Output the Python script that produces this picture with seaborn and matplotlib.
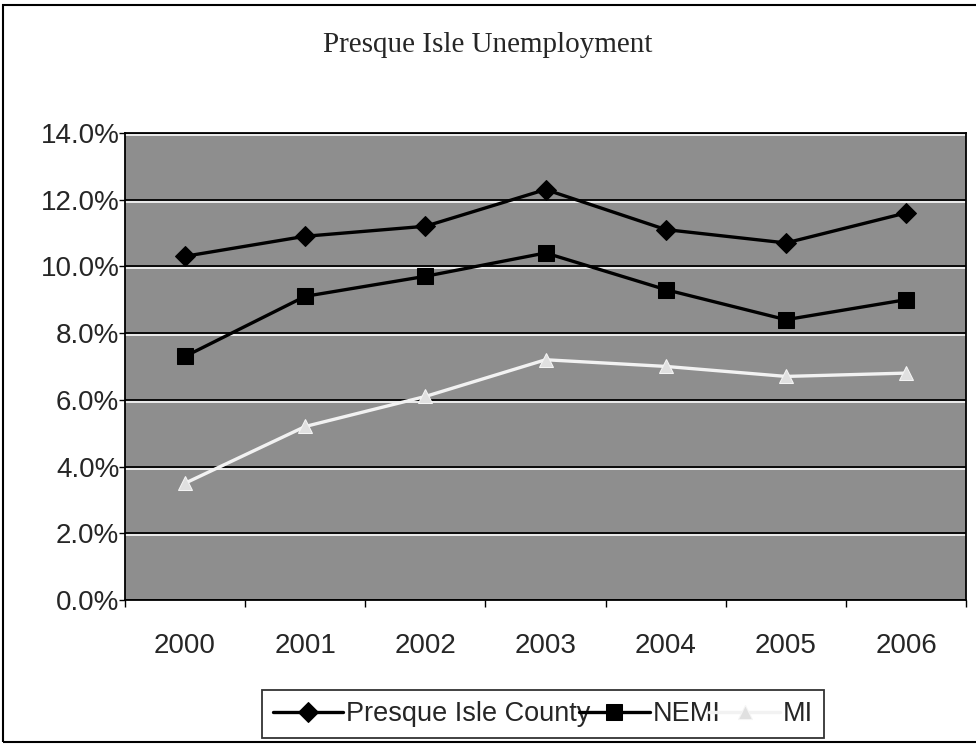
import pandas as pd
import matplotlib.pyplot as plt
import matplotlib.patheffects as pe
import seaborn as sns
from matplotlib.patches import Rectangle
from matplotlib.ticker import FuncFormatter, FixedLocator

# Data
years = ['2000', '2001', '2002', '2003', '2004', '2005', '2006']
presque_isle = [10.3, 10.9, 11.2, 12.3, 11.1, 10.7, 11.6]
nemi = [7.3, 9.1, 9.7, 10.4, 9.3, 8.4, 9.0]
mi = [3.5, 5.2, 6.1, 7.2, 7.0, 6.7, 6.8]
series_names = ['Presque Isle County', 'NEMI', 'MI']

df = pd.DataFrame({'year': years, 'Presque Isle County': presque_isle, 'NEMI': nemi, 'MI': mi})
df['x'] = range(len(years))

sns.set_theme(style="white")
plt.rcParams['font.family'] = ['Liberation Sans', 'DejaVu Sans']

fig = plt.figure(figsize=(9.76, 7.44), dpi=100)
ax = fig.add_axes([0.128, 0.1935, 0.862, 0.628])
ax.set_facecolor('#8e8e8e')

# outer chart frame
fig.patches.append(Rectangle((0.003, 0.003), 1.2, 0.99, transform=fig.transFigure,
                             fill=False, edgecolor='black', linewidth=1.5))

styles = {
    'Presque Isle County': dict(color='black', marker='D', markersize=10, mfc='black', mec='black'),
    'NEMI': dict(color='black', marker='s', markersize=11, mfc='black', mec='black'),
    'MI': dict(color='#f2f2f2', marker='^', markersize=10, mfc='#e0e0e0', mec='#f5f5f5'),
}
for name in series_names:
    st = styles[name]
    sns.lineplot(data=df, x='x', y=name, ax=ax, color=st['color'], marker=st['marker'],
                 markersize=st['markersize'], markerfacecolor=st['mfc'],
                 markeredgecolor=st['mec'], linewidth=2.4, label=name, legend=False)

ax.set_ylim(0, 14)
ax.set_xlim(-0.5, len(years) - 0.5)
ax.set_yticks([0, 2, 4, 6, 8, 10, 12, 14])
ax.yaxis.set_major_formatter(FuncFormatter(lambda v, p: f'{v:.1f}%'))
ax.set_xticks(range(len(years)))
ax.set_xticklabels(years)
ax.xaxis.set_minor_locator(FixedLocator([i - 0.5 for i in range(len(years) + 1)]))
ax.tick_params(axis='x', which='major', length=0, pad=24, labelsize=20)
ax.tick_params(axis='x', which='minor', length=5, width=1, color='black', direction='out', bottom=True)
ax.tick_params(axis='y', length=4, width=1, color='black', direction='out', left=True, labelsize=20, pad=0)
ax.grid(axis='y', color='black', linewidth=1.3)
for gl in ax.get_ygridlines():
    gl.set_path_effects([pe.SimpleLineShadow(offset=(0, -1.5), shadow_color='white', alpha=0.9),
                         pe.Normal()])
ax.set_axisbelow(True)
for s in ax.spines.values():
    s.set_color('black')
    s.set_linewidth(1.3)
ax.set_xlabel('')
ax.set_ylabel('')

fig.text(0.5, 0.940, 'Presque Isle Unemployment', ha='center', va='center', fontsize=21,
         family=['Liberation Serif', 'DejaVu Serif'])

handles, labels = ax.get_legend_handles_labels()
leg = fig.legend(handles, labels, loc='lower center', bbox_to_anchor=(0.556, 0.008), ncol=3,
                 fontsize=19.5, frameon=True, fancybox=False, edgecolor='black',
                 handlelength=2.6, handletextpad=0.1, columnspacing=-0.4, borderpad=0.4,
                 borderaxespad=0)
leg.get_frame().set_linewidth(1.3)

fig.savefig('out.png', dpi=100)
